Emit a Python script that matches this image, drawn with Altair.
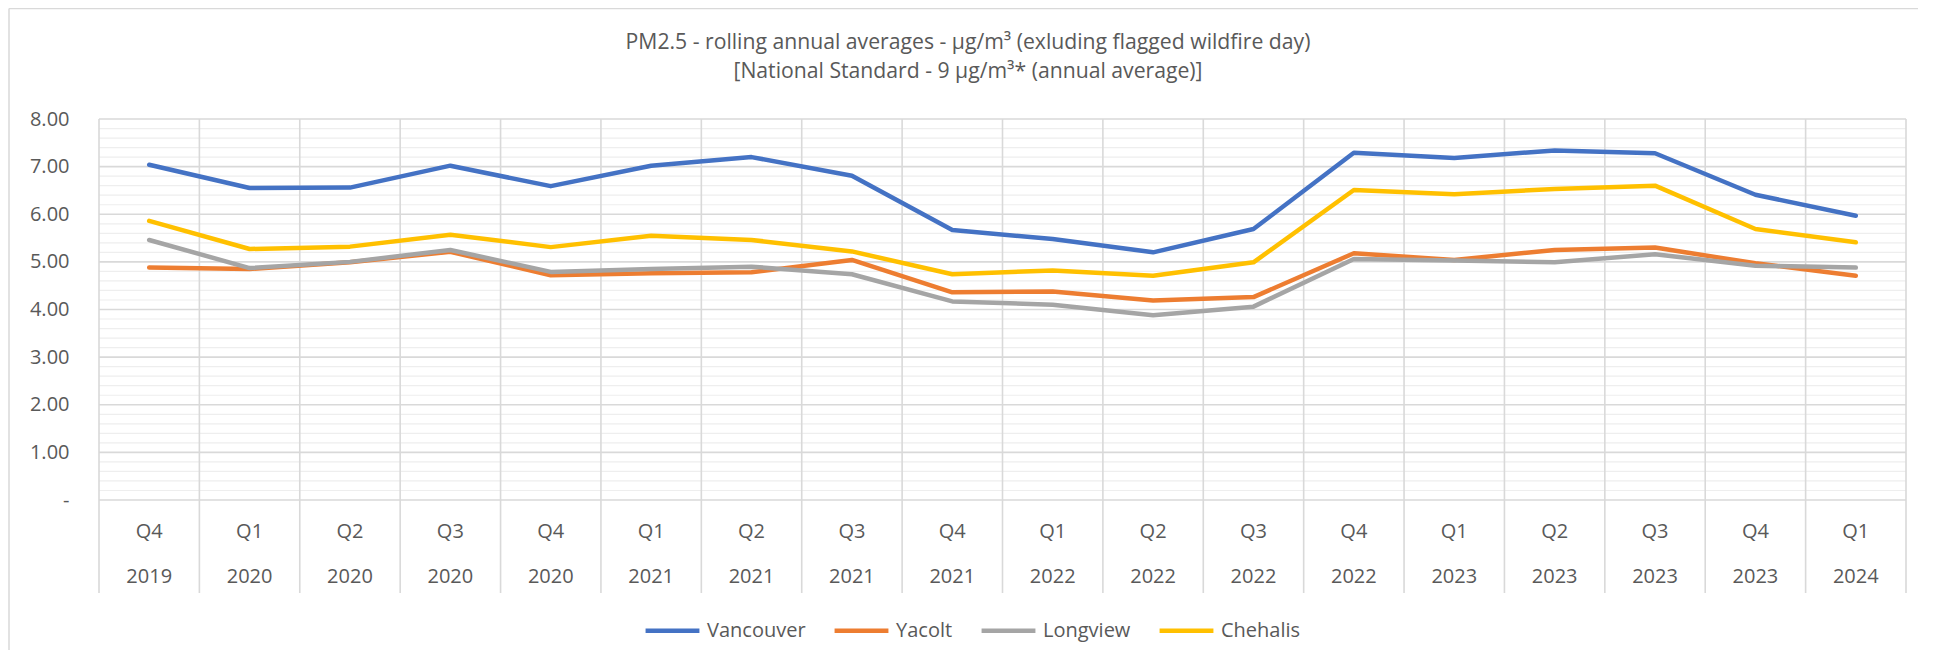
import altair as alt
import pandas as pd

quarters = ["Q4", "Q1", "Q2", "Q3", "Q4", "Q1", "Q2", "Q3", "Q4",
            "Q1", "Q2", "Q3", "Q4", "Q1", "Q2", "Q3", "Q4", "Q1"]
years = ["2019", "2020", "2020", "2020", "2020", "2021", "2021", "2021", "2021",
         "2022", "2022", "2022", "2022", "2023", "2023", "2023", "2023", "2024"]

vancouver = [7.04, 6.55, 6.56, 7.02, 6.59, 7.02, 7.20, 6.81, 5.67,
             5.48, 5.20, 5.69, 7.29, 7.18, 7.34, 7.28, 6.41, 5.97]
yacolt = [4.88, 4.85, 4.99, 5.21, 4.72, 4.76, 4.78, 5.04, 4.36,
          4.38, 4.19, 4.26, 5.18, 5.04, 5.25, 5.30, 4.97, 4.71]
longview = [5.46, 4.87, 5.00, 5.25, 4.79, 4.85, 4.90, 4.74, 4.17,
            4.10, 3.88, 4.06, 5.06, 5.03, 4.99, 5.16, 4.92, 4.88]
chehalis = [5.86, 5.27, 5.32, 5.57, 5.31, 5.55, 5.46, 5.22, 4.74,
            4.82, 4.71, 4.99, 6.51, 6.42, 6.53, 6.60, 5.69, 5.41]

sites = ["Vancouver", "Yacolt", "Longview", "Chehalis"]
colors = ["#4472C4", "#ED7D31", "#A5A5A5", "#FFC000"]
series = [vancouver, yacolt, longview, chehalis]

title_line1 = "PM2.5 - rolling annual averages - µg/m³ (exluding flagged wildfire day)"
title_line2 = "[National Standard - 9 µg/m³* (annual average)]"

FONT = "Open Sans"
TXT = "#595959"
GRID = "#D9D9D9"

rows = []
for s, vals in zip(sites, series):
    for i, v in enumerate(vals):
        rows.append({"site": s, "pos": i + 0.5, "value": v, "order": i})
df = pd.DataFrame(rows)

cat_df = pd.DataFrame({"pos": [i + 0.5 for i in range(len(quarters))],
                       "q": quarters, "yr": years})
bound_df = pd.DataFrame({"b": list(range(len(quarters) + 1))})
major_df = pd.DataFrame({"g": list(range(9))})
minor_df = pd.DataFrame({"g": [round(k * 0.2, 1) for k in range(41) if k % 5]})
title_df = pd.DataFrame({"t": [title_line1, title_line2], "row": [0, 1]})

xscale = alt.Scale(domain=[0, len(quarters)], nice=False, zero=False)
yscale = alt.Scale(domain=[0, 8], nice=False, zero=True)

yaxis = alt.Axis(
    values=list(range(9)),
    labelExpr="datum.value == 0 ? '-\u00a0\u00a0' : format(datum.value, '.2f')",
    title=None, ticks=False, domain=False, grid=False,
    labelFontSize=20, labelFont=FONT, labelColor=TXT, labelPadding=30,
)

minor = alt.Chart(minor_df).mark_rule(color="#EEEEEE", strokeWidth=1.2).encode(
    y=alt.Y("g:Q", scale=yscale, axis=yaxis)
)
major = alt.Chart(major_df).mark_rule(color=GRID, strokeWidth=1.6).encode(
    y=alt.Y("g:Q", scale=yscale)
)
vlines = alt.Chart(bound_df).mark_rule(color=GRID, strokeWidth=1.6).encode(
    x=alt.X("b:Q", scale=xscale, axis=None),
    y=alt.value(0), y2=alt.value(474),
)

border_df = pd.DataFrame({"a": [0]})
border_top = alt.Chart(border_df).mark_rule(color=GRID, strokeWidth=1.5).encode(
    x=alt.value(-90), x2=alt.value(1830), y=alt.value(-110.5)
)
border_left = alt.Chart(border_df).mark_rule(color=GRID, strokeWidth=1.5).encode(
    x=alt.value(-90), y=alt.value(-110.5), y2=alt.value(545)
)

title1 = alt.Chart(title_df).transform_filter(alt.datum.row == 0).mark_text(
    font=FONT, fontSize=21.2, color=TXT, baseline="middle", align="center"
).encode(x=alt.value(869), y=alt.value(-76), text="t:N")
title2 = alt.Chart(title_df).transform_filter(alt.datum.row == 1).mark_text(
    font=FONT, fontSize=21.2, color=TXT, baseline="middle", align="center"
).encode(x=alt.value(869), y=alt.value(-47), text="t:N")

legend = alt.Legend(
    orient="none", legendX=544, legendY=482, direction="horizontal", title=None,
    symbolType="stroke", symbolSize=2900, symbolStrokeWidth=4.5,
    labelFontSize=20, labelFont=FONT, labelColor=TXT, labelOffset=5,
    columnPadding=19, labelLimit=0,
)

line_layers = []
for s in sites:
    line_layers.append(
        alt.Chart(df).transform_filter(alt.datum.site == s)
        .mark_line(strokeWidth=4.5, strokeCap="round", strokeJoin="round")
        .encode(
            x=alt.X("pos:Q", scale=xscale, axis=None),
            y=alt.Y("value:Q", scale=yscale),
            color=alt.Color("site:N", scale=alt.Scale(domain=sites, range=colors),
                            legend=legend),
            order="order:Q",
        )
    )

qtext = alt.Chart(cat_df).mark_text(font=FONT, fontSize=20, color=TXT, baseline="middle").encode(
    x=alt.X("pos:Q", scale=xscale, axis=None), y=alt.value(413), text="q:N"
)
ytext = alt.Chart(cat_df).mark_text(font=FONT, fontSize=20, color=TXT, baseline="middle").encode(
    x=alt.X("pos:Q", scale=xscale, axis=None), y=alt.value(458), text="yr:N"
)

chart = alt.layer(
    border_top, border_left, minor, major, vlines, *line_layers, qtext, ytext,
    title1, title2
).properties(
    width=1807, height=381,
    autosize=alt.AutoSizeParams(type="none"),
    padding={"left": 91, "top": 111, "right": 12, "bottom": 150},
).configure_view(stroke=None)

chart.save("out.html", embed_options={"renderer": "svg", "actions": False})
